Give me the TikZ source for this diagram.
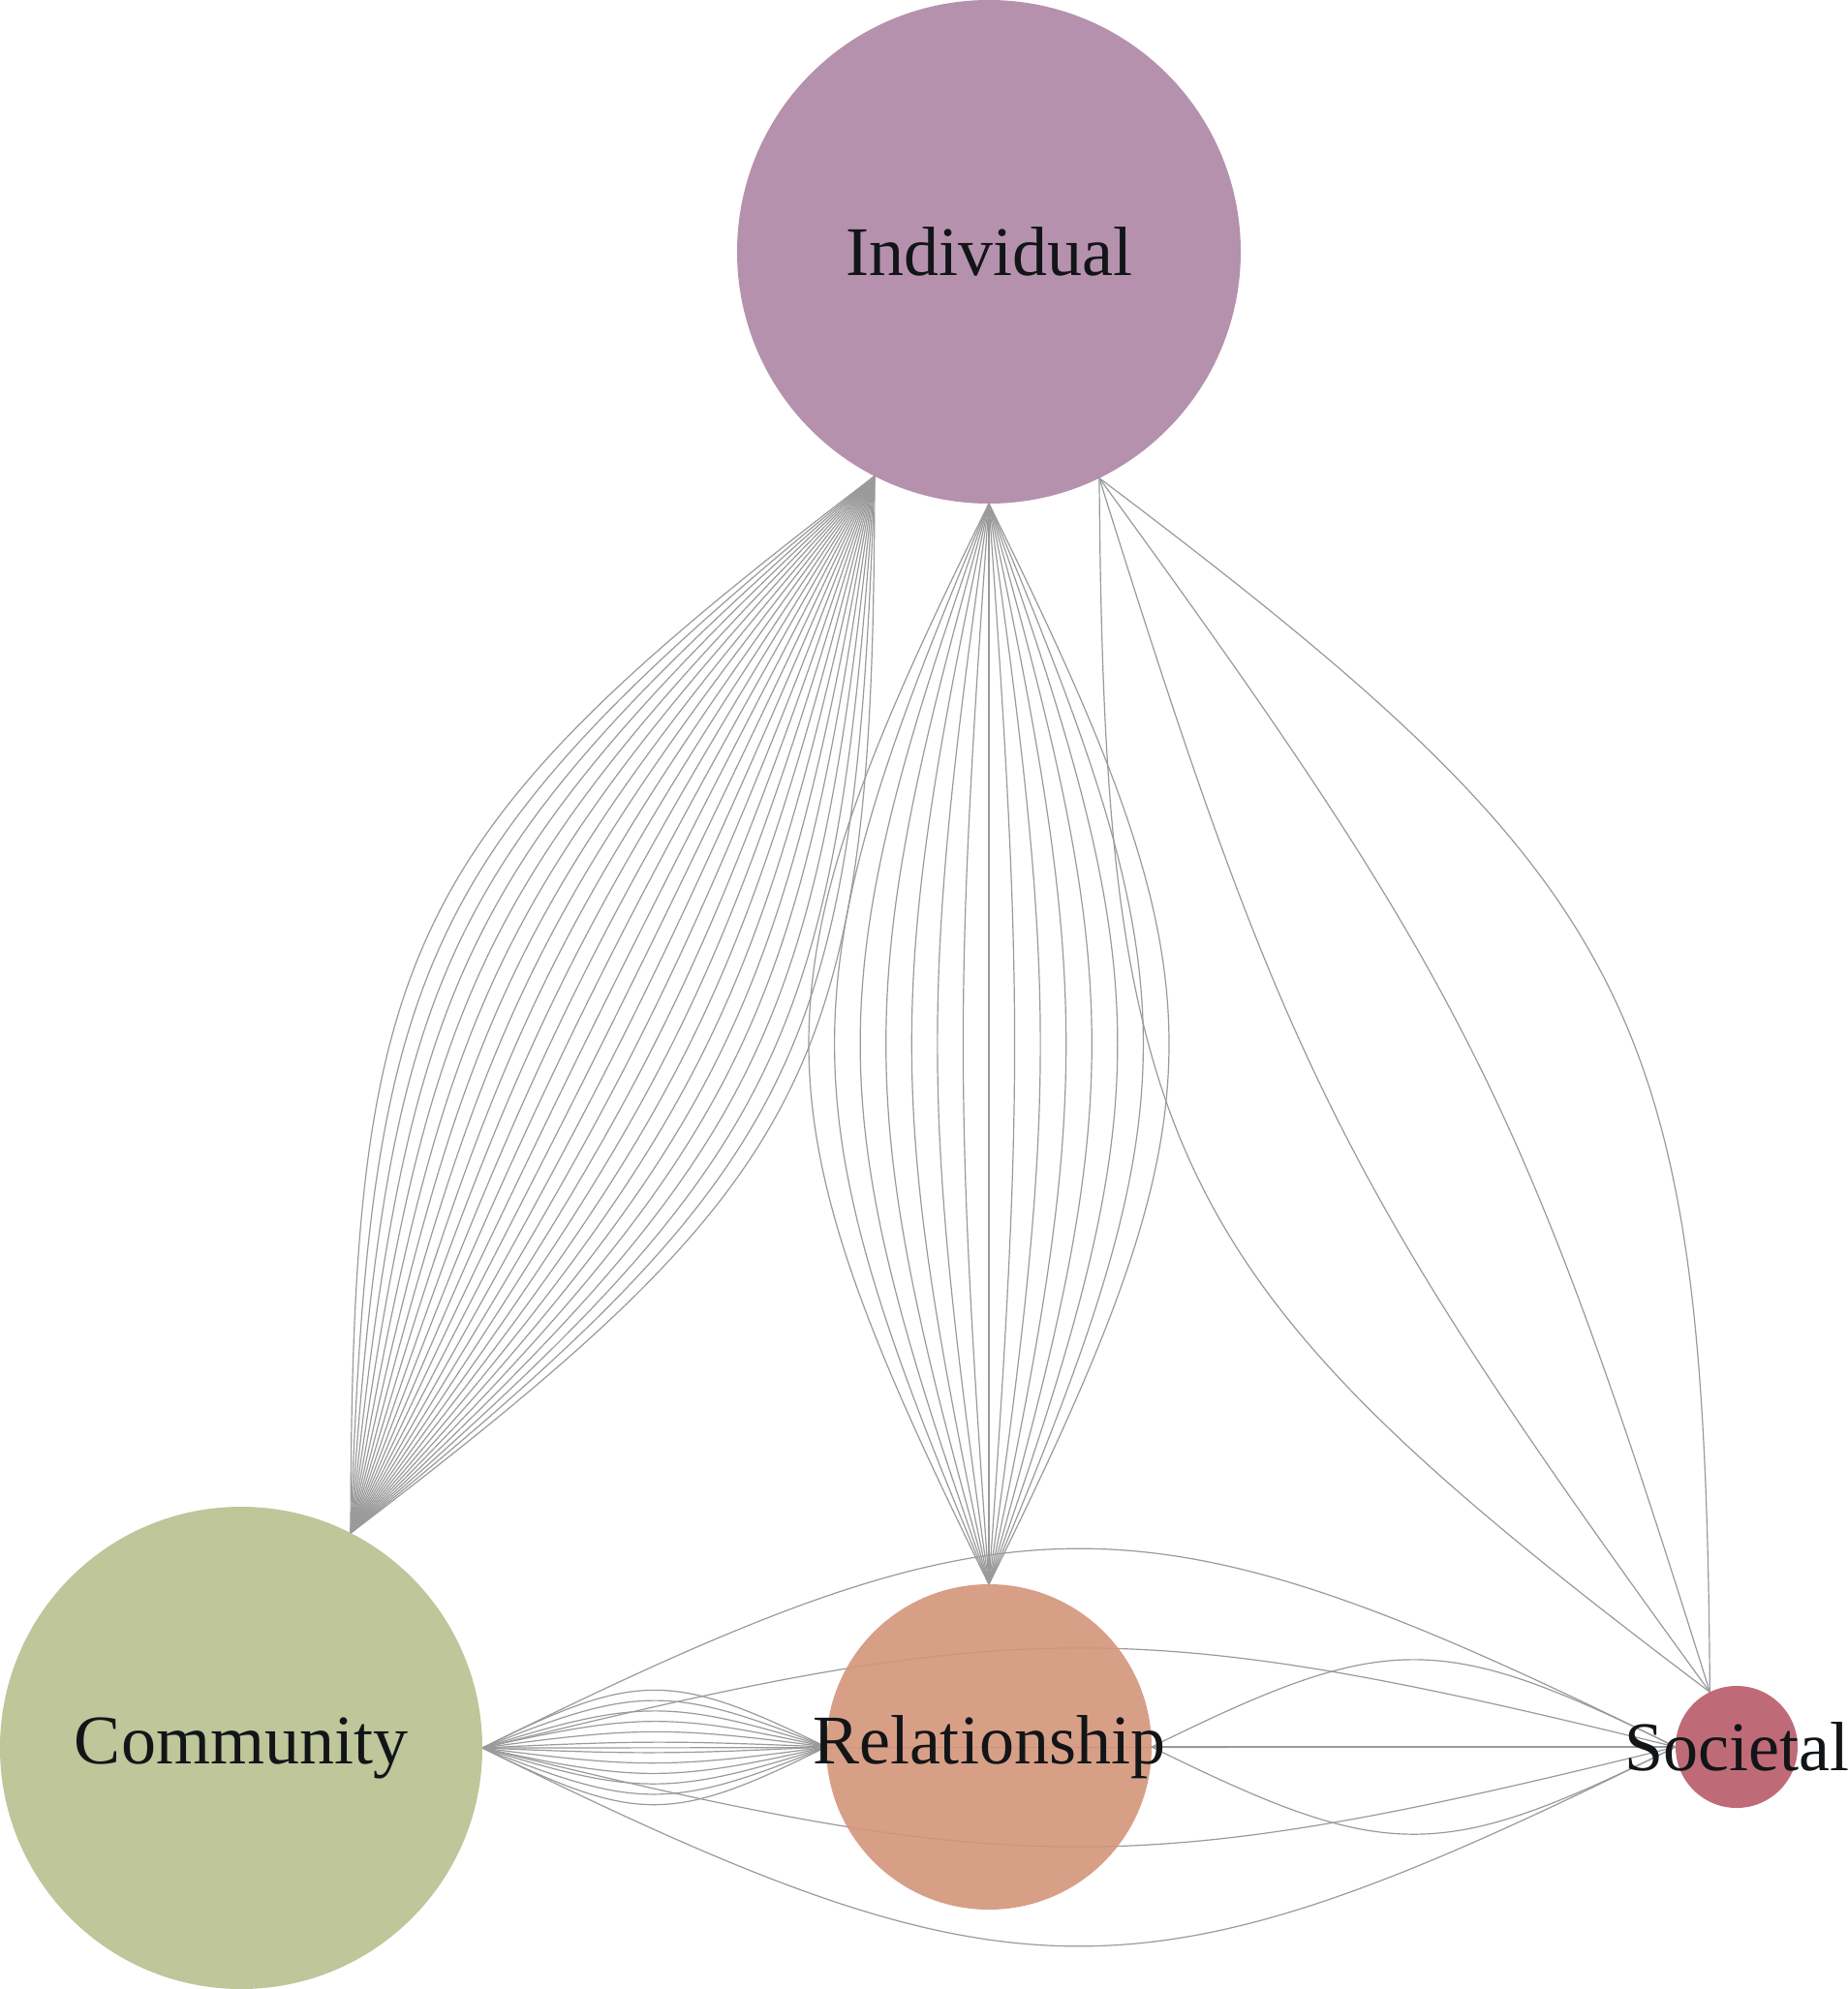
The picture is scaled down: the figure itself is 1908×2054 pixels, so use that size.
\documentclass[tikz,border=0pt]{standalone}
\usepackage{fontspec}
\setmainfont{Liberation Serif}
\usetikzlibrary{calc,backgrounds}
\definecolor{indcol}{HTML}{AE86A5}
\definecolor{comcol}{HTML}{B7C090}
\definecolor{relcol}{HTML}{D4957A}
\definecolor{soccol}{HTML}{B95B69}
\definecolor{edgecol}{HTML}{9A9A9A}
\definecolor{labcol}{HTML}{121518}
\tikzset{
  levelnode/.style={circle, inner sep=0pt, outer sep=0pt, draw=none, fill opacity=0.9},
  lab/.style={font=\fontsize{72}{80}\selectfont, text=labcol, inner sep=0pt},
  edge/.style={draw=edgecol, line width=1.2pt},
}
% bundle of N curves between two anchors, evenly fanned
\newcommand\edgebundle[3]{%
  \pgfmathtruncatemacro\nmax{#3-1}%
  \foreach \j in {0,...,\nmax} {%
    \pgfmathsetmacro\kk{(2*\j/\nmax-1)*0.404}%
    \draw[edge] (#1) .. controls ($(#1)!0.45!(#2)!\kk!90:(#2)$) and ($(#2)!0.45!(#1)!\kk!-90:(#1)$) .. (#2);
  }}
\begin{document}
\begin{tikzpicture}[x=1pt,y=-1pt]
\useasboundingbox (0,0) rectangle (1908,2054);
\node[levelnode, minimum size=520pt, fill=indcol] (I) at (1021,260) {};
\node[levelnode, minimum size=498pt, fill=comcol] (C) at (249,1805) {};
\node[levelnode, minimum size=336pt, fill=relcol] (R) at (1021,1804) {};
\node[levelnode, minimum size=126pt, fill=soccol] (S) at (1793,1804) {};
\begin{scope}[on background layer]
  \fill[white] (0,0) rectangle (1908,2054);
  \edgebundle{I.243.43}{C.63.43}{26}
  \edgebundle{I.south}{R.north}{15}
  \edgebundle{I.296.57}{S.116.57}{4}
  \edgebundle{C.east}{R.west}{12}
  \edgebundle{C.east}{S.west}{5}
  \edgebundle{R.east}{S.west}{3}
\end{scope}
\node[lab] (Ilab) at (I) {Individual};
\node[lab] (Clab) at (C) {Community};
\node[lab] (Rlab) at (R) {Relationship};
\node[lab] (Slab) at (S) {Societal};
\end{tikzpicture}
\end{document}
